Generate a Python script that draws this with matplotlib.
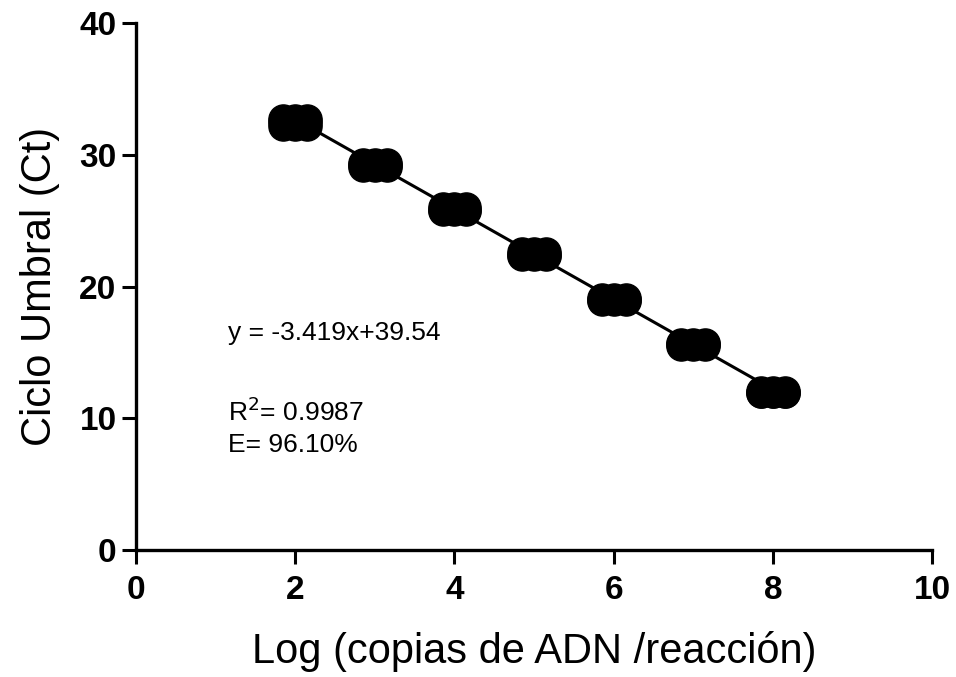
import numpy as np
import matplotlib
matplotlib.use("Agg")
import matplotlib.pyplot as plt

# Curva estándar qPCR: replicados por dilución
log_copias = [2, 3, 4, 5, 6, 7, 8]
rep_x_offset = [-0.15, 0.0, 0.15]
ct_rep1 = [32.5, 29.2, 25.8, 22.4, 19.0, 15.6, 11.9]
ct_rep2 = [32.7, 29.4, 26.0, 22.6, 19.1, 15.7, 12.1]
ct_rep3 = [32.2, 29.1, 25.7, 22.3, 18.9, 15.5, 11.9]

slope = -3.419
intercept = 39.54
eq_lines = ["y = -3.419x+39.54", "R$^{2}$= 0.9987", "E= 96.10%"]

plt.rcParams["font.family"] = ["Liberation Sans", "DejaVu Sans"]

fig = plt.figure(figsize=(9.56, 6.77), dpi=100)
ax = fig.add_axes([0.1423, 0.1876, 0.8327, 0.7784])

x = np.array(log_copias, dtype=float)
for reps in (ct_rep1, ct_rep2, ct_rep3):
    for off in rep_x_offset:
        ax.plot(x + off, reps, "o", color="black", markersize=21, zorder=3)

xfit = np.array([x.min(), x.max()])
ax.plot(xfit, slope * xfit + intercept, color="black", lw=2.2, zorder=2)

ax.text(1.15, 16.5, eq_lines[0], fontsize=19, va="center")
ax.text(1.15, 10.5, eq_lines[1], fontsize=19, va="center")
ax.text(1.15, 8.0, eq_lines[2], fontsize=19, va="center")

ax.set_xlim(0, 10)
ax.set_ylim(0, 40)
ax.set_xticks([0, 2, 4, 6, 8, 10])
ax.set_yticks([0, 10, 20, 30, 40])
ax.spines[["top", "right"]].set_visible(False)
for s in ("left", "bottom"):
    ax.spines[s].set_linewidth(2.4)
ax.tick_params(width=2.2, length=10, labelsize=24, pad=4)
ax.tick_params(axis="x", pad=8)
for lbl in ax.get_xticklabels() + ax.get_yticklabels():
    lbl.set_fontweight("bold")

ax.set_xlabel("Log (copias de ADN /reacción)", fontsize=30, labelpad=18)
ax.set_ylabel("Ciclo Umbral (Ct)", fontsize=30, labelpad=14)

fig.savefig("out.png", dpi=100)
